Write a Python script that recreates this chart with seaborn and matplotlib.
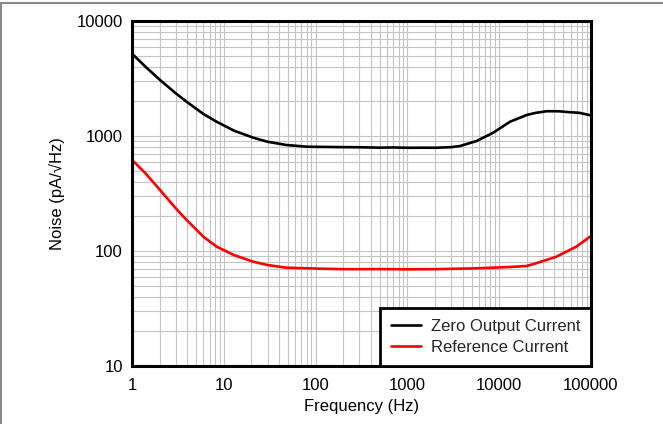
import numpy as np
import pandas as pd
import matplotlib
matplotlib.use("Agg")
import matplotlib.pyplot as plt
from matplotlib.lines import Line2D
from matplotlib.ticker import LogLocator, FixedLocator, FixedFormatter, NullFormatter
import seaborn as sns

# Noise spectral density, zero output current
freq_zero = [1, 1.4, 2.02, 3, 3.94, 6, 8.37, 13, 21, 30, 48, 80, 100, 200, 305,
             500, 700, 1000, 1600, 2000, 3000, 3740, 5680, 8630, 13100, 19950,
             25000, 32900, 45000, 54300, 75000, 100000]
noise_zero = [5200, 4010, 3070, 2350, 1985, 1553, 1330, 1110, 966, 891, 835, 807, 805,
              800, 798, 792, 795, 790, 791, 790, 800, 818, 905, 1069, 1330, 1523,
              1590, 1642, 1640, 1618, 1590, 1510]

# Noise spectral density, reference current
freq_ref = [1, 1.4, 2.02, 3, 3.94, 6, 8.37, 13, 21, 30, 48, 112, 200, 305, 500,
            1000, 1600, 2000, 5000, 8630, 15000, 19950, 25100, 41700, 69000, 100000]
noise_ref = [620, 475, 339, 235, 186, 133, 109, 92, 80.7, 75.5, 71.6, 70.2, 69.5,
             69.5, 69.6, 69.3, 69.4, 69.5, 70.5, 71.6, 73, 74.1, 78.2, 89, 109, 135]

series_names = ["Zero Output Current", "Reference Current"]
x_ticks = [1, 10, 100, 1000, 10000, 100000]
x_tick_labels = ["1", "10", "100", "1000", "10000", "100000"]
y_ticks = [10, 100, 1000, 10000]
y_tick_labels = ["10", "100", "1000", "10000"]

df = pd.concat([
    pd.DataFrame({"Frequency": freq_zero, "Noise": noise_zero, "Series": series_names[0]}),
    pd.DataFrame({"Frequency": freq_ref, "Noise": noise_ref, "Series": series_names[1]}),
], ignore_index=True)

sns.set_theme(style="white")
plt.rcParams["font.family"] = ["Liberation Sans", "DejaVu Sans"]

fig = plt.figure(figsize=(6.63, 4.24), dpi=100)
ax = fig.add_axes([132 / 663, 1 - 366 / 424, 459 / 663, 345 / 424])

sns.lineplot(data=df, x="Frequency", y="Noise", hue="Series",
             palette={series_names[0]: "#000000", series_names[1]: "#ff0000"},
             linewidth=1.9, ax=ax, sort=False, estimator=None)

ax.set_xscale("log")
ax.set_yscale("log")
ax.set_xlim(1, 100000)
ax.set_ylim(10, 10000)

ax.xaxis.set_major_locator(FixedLocator(x_ticks))
ax.xaxis.set_major_formatter(FixedFormatter(x_tick_labels))
ax.yaxis.set_major_locator(FixedLocator(y_ticks))
ax.yaxis.set_major_formatter(FixedFormatter(y_tick_labels))
ax.xaxis.set_minor_locator(LogLocator(base=10, subs=np.arange(2, 10), numticks=20))
ax.yaxis.set_minor_locator(LogLocator(base=10, subs=np.arange(2, 10), numticks=20))
ax.xaxis.set_minor_formatter(NullFormatter())
ax.yaxis.set_minor_formatter(NullFormatter())

ax.grid(True, which="both", color="#c4c4c4", linewidth=0.8)
ax.set_axisbelow(True)
ax.tick_params(which="both", length=0, labelsize=12, colors="#000000")
ax.tick_params(axis="x", pad=8.5)
ax.tick_params(axis="y", pad=6.5)

for sp in ax.spines.values():
    sp.set_visible(True)
    sp.set_color("#000000")
    sp.set_linewidth(2.2)

ax.set_xlabel("Frequency (Hz)", fontsize=12, color="#000000")
ax.set_ylabel("Noise (pA/\u221aHz)", fontsize=12, color="#000000")
ax.xaxis.set_label_coords(0.5, -0.097)
ax.yaxis.set_label_coords(-0.145, 0.5)

leg = ax.legend(loc="lower right", bbox_to_anchor=(1.0, 0.0), borderaxespad=0,
                fancybox=False, frameon=True, fontsize=12, handlelength=1.85,
                handletextpad=0.55, labelspacing=0.4, borderpad=0.65, title=None)
leg.get_frame().set_edgecolor("#000000")
leg.get_frame().set_linewidth(2.0)
leg.get_frame().set_alpha(1.0)
for h in leg.get_lines():
    h.set_linewidth(1.9)

# thin gray frame on the outer edge
fig.add_artist(Line2D([0.5 / 663, 0.5 / 663], [0, 1 - 2.5 / 424], color="#8a8a8a", linewidth=1.5))
fig.add_artist(Line2D([0, 1], [1 - 2.5 / 424, 1 - 2.5 / 424], color="#8a8a8a", linewidth=1.5))

fig.savefig("out.png", dpi=100)
